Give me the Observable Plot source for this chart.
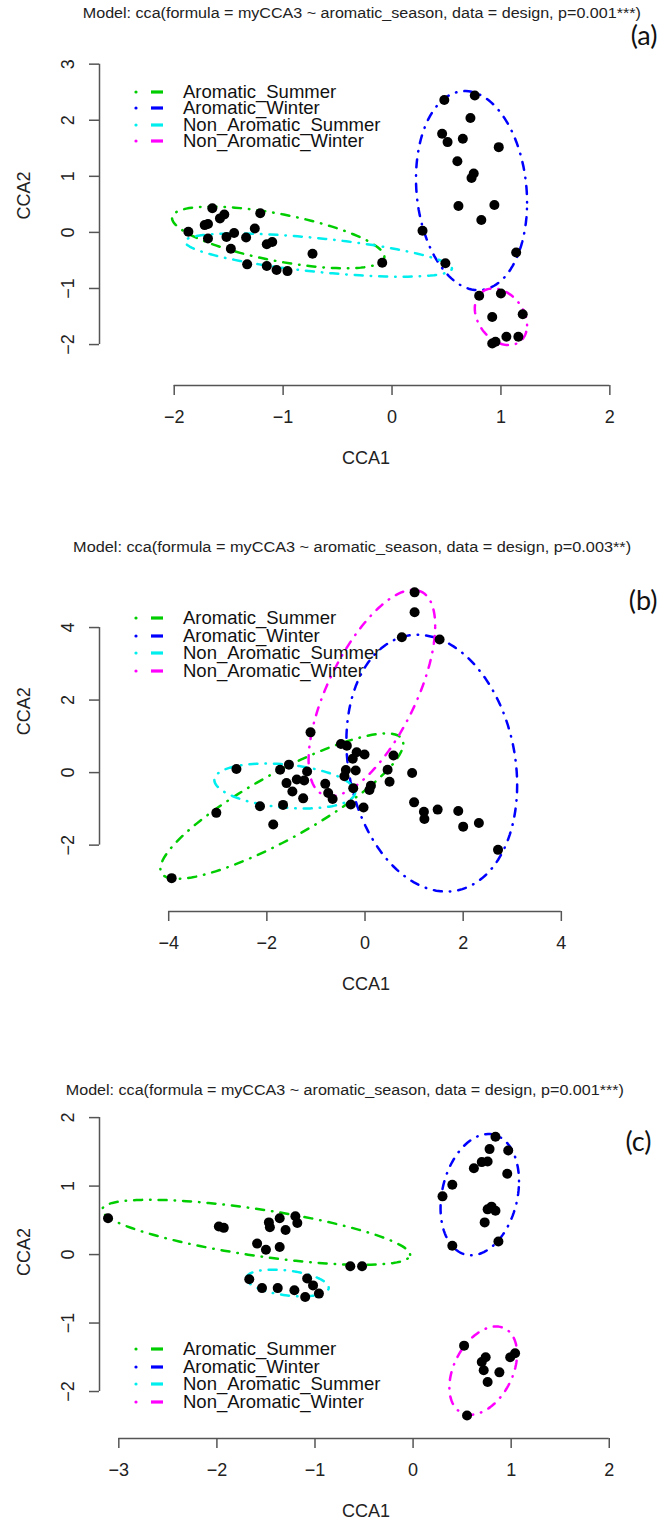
<!DOCTYPE html>
<html><head><meta charset="utf-8">
<script src="https://cdn.jsdelivr.net/npm/d3@7"></script>
<script src="https://cdn.jsdelivr.net/npm/@observablehq/plot@0.6"></script>
<style>
body{margin:0;background:#fff;}
#root{position:relative;width:660px;height:1521px;overflow:hidden;font-family:"Liberation Sans",Arial,sans-serif;background:#fff;}
.panel{position:absolute;left:0;}
.title{position:absolute;width:660px;text-align:center;font-size:14px;line-height:20px;color:#222;white-space:nowrap;}
.title span{display:inline-block;transform-origin:center center;}
.leg{position:absolute;left:0;font-size:18.5px;color:#111;white-space:nowrap;}
.leg .row{position:absolute;left:0;height:20px;line-height:20px;}
</style></head><body><div id="root"></div>
<script>
// ---------- data ----------
const groups = ["Aromatic_Summer", "Aromatic_Winter", "Non_Aromatic_Summer", "Non_Aromatic_Winter"];
const groupColors = ["#00cd00", "#0000ff", "#00eeee", "#ff00ff"];
const titles = [
  "Model: cca(formula = myCCA3 ~ aromatic_season, data = design, p=0.001***)",
  "Model: cca(formula = myCCA3 ~ aromatic_season, data = design, p=0.003**)",
  "Model: cca(formula = myCCA3 ~ aromatic_season, data = design, p=0.001***)"
];
const panelTags = ["(a)", "(b)", "(c)"];
const xLabel = "CCA1";
const yLabel = "CCA2";

// panel (a)
const aXTicks = [-2, -1, 0, 1, 2];
const aYTicks = [-2, -1, 0, 1, 2, 3];
const aX = [0.48, 0.76, 0.72, 0.46, 0.51, 0.65, 0.98, 0.60, 0.75, 0.73, 0.61, 0.94, 0.82, 0.28, 1.14, 0.49,
  0.80, 1.00, 0.92, 1.20, 1.05, 1.16, 0.92, 0.95,
  -1.65, -1.54, -1.58, -1.21, -1.72, -1.69, -1.87, -1.69, -1.52, -1.45, -1.34, -1.26, -1.15, -1.10, -1.48, -1.33, -1.15, -1.06, -0.96, -0.73, -0.09];
const aY = [2.36, 2.44, 2.04, 1.76, 1.61, 1.67, 1.52, 1.27, 1.05, 0.97, 0.47, 0.49, 0.22, 0.03, -0.36, -0.55,
  -1.13, -1.09, -1.51, -1.46, -1.86, -1.86, -1.98, -1.95,
  0.43, 0.32, 0.25, 0.34, 0.13, 0.15, 0.01, -0.11, -0.08, -0.01, -0.09, 0.07, -0.21, -0.17, -0.29, -0.57, -0.60, -0.67, -0.69, -0.38, -0.54];
const aEllCx = [-1.045, 0.73, -0.675, 1.00];
const aEllCy = [-0.09, 0.745, -0.405, -1.505];
const aEllSx = [0.975, 0.51, 1.225, 0.24];
const aEllSy = [0.55, 1.775, 0.385, 0.505];
const aEllR = [-0.63, -0.12, -0.62, -0.30];

// panel (b)
const bXTicks = [-4, -2, 0, 2, 4];
const bYTicks = [-2, 0, 2, 4];
const bX = [-1.11, -0.49, -0.37, -0.17, -0.01, -0.25, 0.58, -2.62, -1.73, -1.55, -1.18, -0.39, -0.19, 0.46, 0.96,
  -1.39, -1.24, -1.60, -0.42, -0.81, 0.50, 0.12, 0.09, -0.24, -1.48, -1.26, -0.75, -0.66, -2.14, -1.67, -0.29, -0.03,
  1.00, 1.20, 1.21, 1.48, 1.90, 2.00, 2.32, 2.71, -3.03, -1.87, -3.94, 1.01, 1.01, 0.75, 1.52];
const bY = [1.11, 0.79, 0.74, 0.56, 0.50, 0.38, 0.47, 0.10, 0.08, 0.22, 0.03, 0.07, 0.06, 0.08, -0.01,
  -0.19, -0.22, -0.29, -0.10, -0.31, -0.25, -0.36, -0.48, -0.43, -0.52, -0.71, -0.56, -0.73, -0.93, -0.89, -0.88, -0.96,
  -0.82, -1.08, -1.28, -1.02, -1.06, -1.49, -1.39, -2.13, -1.11, -1.43, -2.91, 4.97, 4.42, 3.73, 3.67];
const bEllCx = [-1.695, 1.36, -1.635, 0.14];
const bEllCy = [-0.925, 0.26, -0.37, 2.195];
const bEllSx = [2.475, 1.74, 1.435, 1.29];
const bEllSy = [2.005, 3.54, 0.62, 2.845];
const bEllR = [0.86, -0.17, -0.27, 0.65];

// panel (c)
const cXTicks = [-3, -2, -1, 0, 1, 2];
const cYTicks = [-2, -1, 0, 1, 2];
const cX = [0.84, 0.78, 0.97, 0.70, 0.76, 0.62, 0.96, 0.40, 0.30, 0.80, 0.76, 0.84, 0.73, 0.40, 0.87,
  0.52, 0.74, 0.70, 0.72, 0.88, 0.76, 0.99, 1.04, 0.55,
  -3.11, -1.98, -1.93, -1.47, -1.46, -1.36, -1.30, -1.20, -1.18, -1.59, -1.50, -1.36, -0.64, -0.52,
  -1.67, -1.54, -1.38, -1.21, -1.08, -1.02, -1.10, -0.96];
const cY = [1.72, 1.54, 1.52, 1.35, 1.36, 1.26, 1.18, 1.02, 0.85, 0.70, 0.66, 0.64, 0.47, 0.13, 0.19,
  -1.33, -1.50, -1.57, -1.69, -1.72, -1.86, -1.50, -1.44, -2.35,
  0.53, 0.41, 0.39, 0.47, 0.40, 0.53, 0.36, 0.56, 0.46, 0.16, 0.07, 0.11, -0.17, -0.17,
  -0.36, -0.49, -0.49, -0.52, -0.35, -0.45, -0.62, -0.57];
const cEllCx = [-1.60, 0.68, -1.28, 0.715];
const cEllCy = [0.325, 0.875, -0.415, -1.695];
const cEllSx = [1.57, 0.40, 0.42, 0.345];
const cEllSy = [0.475, 0.885, 0.195, 0.645];
const cEllR = [-0.69, 0.22, -0.35, 0.38];

// ---------- layout ----------
const panels = [
  {X: aX, Y: aY, ell: [aEllCx, aEllCy, aEllSx, aEllSy, aEllR], xt: aXTicks, yt: aYTicks,
   top: 0, height: 520, mt: 53, mb: 135, xd: [-2.686, 2.208], yd: [-2.73, 3.19],
   tagDx: 25, tagDy: -17, titleY: 13, titleX: 362, legY: 92, legStep: 16.4},
  {X: bX, Y: bY, ell: [bEllCx, bEllCy, bEllSx, bEllSy, bEllR], xt: bXTicks, yt: bYTicks,
   top: 520, height: 540, mt: 38.5, mb: 149, xd: [-5.41, 5.45], yd: [-3.83, 5.89],
   tagDx: 25, tagDy: 42.5, titleY: 547, titleX: 352, legY: 618, legStep: 17.7},
  {X: cX, Y: cY, ell: [cEllCx, cEllCy, cEllSx, cEllSy, cEllR], xt: cXTicks, yt: cYTicks,
   top: 1060, height: 461, mt: 53, mb: 83, xd: [-3.197, 2.237], yd: [-2.686, 2.06],
   tagDx: 19, tagDy: 29, titleY: 1090, titleX: 345, legY: 1349, legStep: 17.7}
];

const fmt = d => (d < 0 ? "\u2212" + Math.abs(d) : String(d));
const root = document.getElementById("root");

function ellipseOutline(cx, cy, sx, sy, r, g) {
  const out = [];
  const n = 120;
  const k = Math.sqrt(1 - r * r);
  for (let i = 0; i <= n; i++) {
    const t = 2 * Math.PI * i / n;
    out.push({x: cx + sx * Math.cos(t), y: cy + sy * (r * Math.cos(t) + k * Math.sin(t)), g});
  }
  return out;
}

panels.forEach((p, i) => {
  const pts = p.X.map((x, j) => ({x, y: p.Y[j]}));
  const [ecx, ecy, esx, esy, er] = p.ell;
  const ell = groups.flatMap((g, j) => ellipseOutline(ecx[j], ecy[j], esx[j], esy[j], er[j], g));
  const axisStroke = "#555";
  const chart = Plot.plot({
    width: 660, height: p.height,
    marginLeft: 99, marginRight: 28, marginTop: p.mt, marginBottom: p.mb,
    x: {domain: p.xd, axis: null},
    y: {domain: p.yd, axis: null},
    color: {domain: groups, range: groupColors},
    style: {fontFamily: "'Liberation Sans', Arial, sans-serif", background: "transparent", overflow: "visible", color: "#222"},
    marks: [
      Plot.line(ell, {x: "x", y: "y", z: "g", stroke: "g", strokeWidth: 2.5,
        strokeDasharray: "0.5,8,8,8", strokeLinecap: "round"}),
      Plot.dot(pts, {x: "x", y: "y", r: 5, fill: "black", stroke: "none"}),
      Plot.ruleX([p.xd[0]], {y1: p.yt[0], y2: p.yt[p.yt.length - 1], stroke: axisStroke, strokeWidth: 1.5}),
      Plot.ruleY([p.yd[0]], {x1: p.xt[0], x2: p.xt[p.xt.length - 1], stroke: axisStroke, strokeWidth: 1.5}),
      Plot.axisX(p.xt, {anchor: "bottom", tickSize: 10, tickPadding: 15, fontSize: 18, tickFormat: fmt,
        label: null, stroke: axisStroke, strokeWidth: 1.5, fill: "#222"}),
      Plot.axisY(p.yt, {anchor: "left", tickSize: 10, tickFormat: () => "", label: null,
        stroke: axisStroke, strokeWidth: 1.5}),
      Plot.text(p.yt, {y: d => d, text: fmt, frameAnchor: "left", dx: -31, rotate: -90,
        fontSize: 18, textAnchor: "middle", lineAnchor: "middle", fill: "#222"}),
      Plot.text([xLabel], {frameAnchor: "bottom", dy: 73, fontSize: 18, lineAnchor: "middle", fill: "#222"}),
      Plot.text([yLabel], {frameAnchor: "left", dx: -75, rotate: -90, fontSize: 18, lineAnchor: "middle", fill: "#222"}),
      Plot.text([panelTags[i]], {frameAnchor: "top-right", dx: p.tagDx, dy: p.tagDy, textAnchor: "end",
        lineAnchor: "middle", fontSize: 27, fontFamily: "Lato, 'Open Sans', sans-serif", fill: "#111"})
    ]
  });
  chart.classList.add("panel");
  chart.style.top = p.top + "px";
  root.appendChild(chart);

  // title
  const t = document.createElement("div");
  t.className = "title";
  t.style.left = (p.titleX - 330) + "px";
  t.style.top = (p.titleY - 10) + "px";
  const s = document.createElement("span");
  s.textContent = titles[i];
  t.appendChild(s);
  root.appendChild(t);
  const w = s.getBoundingClientRect().width;
  s.style.transform = "scaleX(" + (558 / w) + ")";

  // legend
  const leg = document.createElement("div");
  leg.className = "leg";
  leg.style.top = "0px";
  groups.forEach((g, j) => {
    const row = document.createElement("div");
    row.className = "row";
    row.style.top = (p.legY + j * p.legStep - 10) + "px";
    row.innerHTML =
      '<svg width="180" height="20" style="position:absolute;left:0;top:0;overflow:visible">' +
      '<circle cx="136" cy="10" r="1.6" fill="' + groupColors[j] + '"/>' +
      '<line x1="151" x2="163" y1="10" y2="10" stroke="' + groupColors[j] + '" stroke-width="3.2"/></svg>' +
      '<span style="position:absolute;left:183px;top:0">' + g + '</span>';
    leg.appendChild(row);
  });
  root.appendChild(leg);
});
</script></body></html>
